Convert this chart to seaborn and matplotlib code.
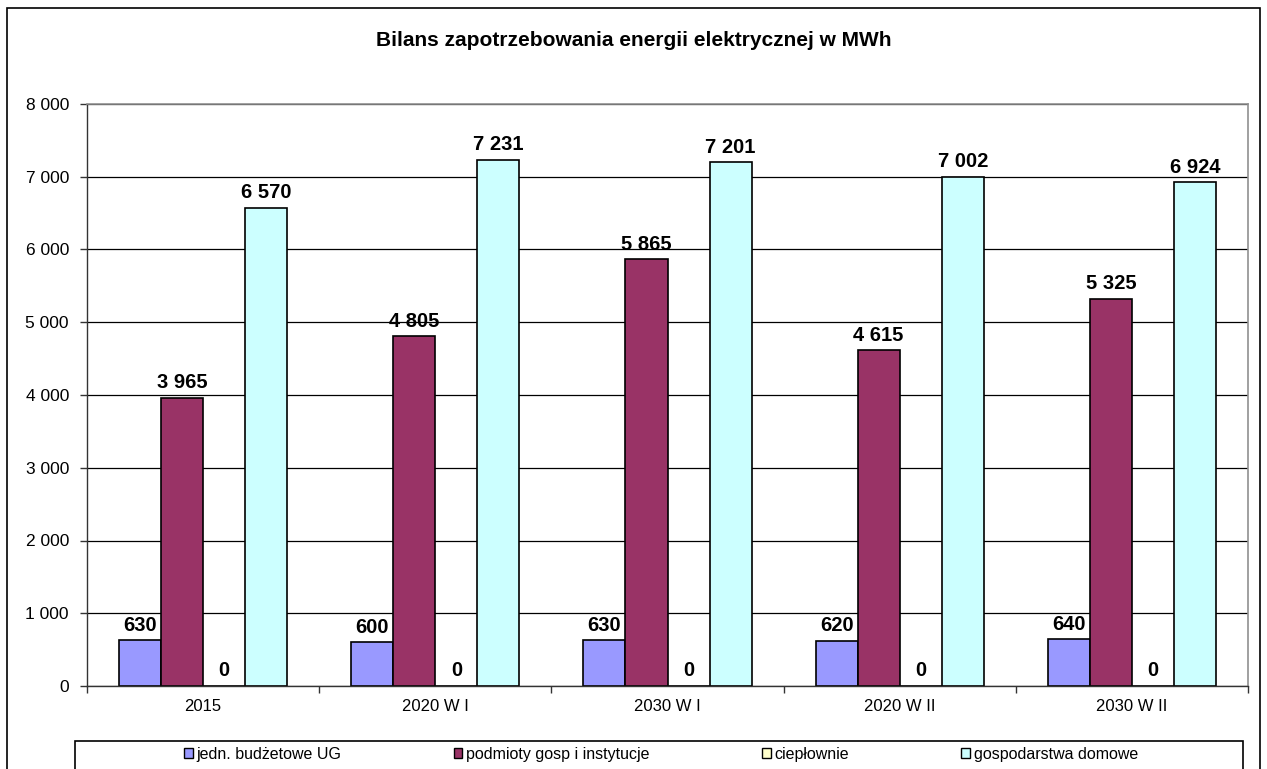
import numpy as np
import pandas as pd
import matplotlib

matplotlib.use("Agg")

import matplotlib.pyplot as plt
import seaborn as sns
from matplotlib.patches import Rectangle
from matplotlib.ticker import FuncFormatter, FixedLocator

categories = ["2015", "2020 W I", "2030 W I", "2020 W II", "2030 W II"]
series_names = ["jedn. budżetowe UG", "podmioty gosp i instytucje", "ciepłownie", "gospodarstwa domowe"]
jedn_budzetowe = [630, 600, 630, 620, 640]
podmioty_gosp = [3965, 4805, 5865, 4615, 5325]
cieplownie = [0, 0, 0, 0, 0]
gospodarstwa = [6570, 7231, 7201, 7002, 6924]
colors = ["#9999FF", "#993366", "#FFFFCC", "#CCFFFF"]

values = [jedn_budzetowe, podmioty_gosp, cieplownie, gospodarstwa]
df = pd.DataFrame({
    "kategoria": np.repeat([categories], len(series_names), axis=0).ravel(),
    "seria": np.repeat(series_names, len(categories)),
    "MWh": np.concatenate(values),
})

sns.set_style("white")
plt.rcParams["font.family"] = ["Liberation Sans", "DejaVu Sans"]
plt.rcParams["text.color"] = "black"
plt.rcParams["xtick.color"] = "black"
plt.rcParams["ytick.color"] = "black"

fig = plt.figure(figsize=(12.67, 7.69), dpi=100)
ax = fig.add_axes([87 / 1267, 1 - 686 / 769, (1248 - 87) / 1267, (686 - 104) / 769])

sns.barplot(data=df, x="kategoria", y="MWh", hue="seria", hue_order=series_names,
            order=categories, palette=colors, width=0.724, edgecolor="black",
            linewidth=1.2, saturation=1, ax=ax, legend=False)


def fmt(v):
    return f"{int(round(v)):,}".replace(",", " ")


for cont in ax.containers:
    ax.bar_label(cont, labels=[fmt(b.get_height()) for b in cont], padding=4,
                 fontsize=14.5, fontweight="bold", color="black")

ax.set_ylim(0, 8000)
ax.set_xlim(-0.5, 4.5)
ax.yaxis.set_major_locator(FixedLocator(np.arange(0, 8001, 1000)))
ax.yaxis.set_major_formatter(FuncFormatter(lambda v, p: fmt(v)))
ax.yaxis.grid(True, color="black", linewidth=0.9)
ax.set_axisbelow(True)
ax.set_xlabel("")
ax.set_ylabel("")
ax.tick_params(axis="y", which="major", left=True, length=5, width=1, color="#333333",
               labelsize=12.5, labelcolor="black", pad=8)
ax.tick_params(axis="x", which="major", bottom=False, labelsize=12, labelcolor="black", pad=6)
ax.xaxis.set_minor_locator(FixedLocator(np.arange(-0.5, 4.6, 1)))
ax.tick_params(axis="x", which="minor", bottom=True, length=5, width=1, color="#333333")
for side in ["left", "bottom"]:
    ax.spines[side].set_color("#333333")
    ax.spines[side].set_linewidth(1)
for side in ["top", "right"]:
    ax.spines[side].set_color("#909090")
    ax.spines[side].set_linewidth(1.2)

fig.text(0.5, 1 - 40 / 769, "Bilans zapotrzebowania energii elektrycznej w MWh",
         ha="center", va="center", fontsize=15, fontweight="bold")

# outer chart border
fig.patches.append(Rectangle((7 / 1267, -0.02), (1260 - 7) / 1267, 1.02 - 8 / 769,
                             transform=fig.transFigure, fill=False, edgecolor="black",
                             linewidth=1.2))
# legend box
fig.patches.append(Rectangle((75 / 1267, -0.02), (1243 - 75) / 1267, 0.02 + 1 - 741 / 769,
                             transform=fig.transFigure, fill=False, edgecolor="black",
                             linewidth=1.2))

handles = [Rectangle((0, 0), 1, 1, facecolor=c, edgecolor="black", linewidth=1) for c in colors]
leg = fig.legend(handles, series_names, loc="center",
                 bbox_to_anchor=(661 / 1267, 1 - 754 / 769),
                 ncol=4, fontsize=11.5, frameon=False,
                 handlelength=0.55, handleheight=0.55, handletextpad=0.25,
                 columnspacing=7.0, borderaxespad=0, borderpad=0)

fig.savefig("out.png", dpi=100)
